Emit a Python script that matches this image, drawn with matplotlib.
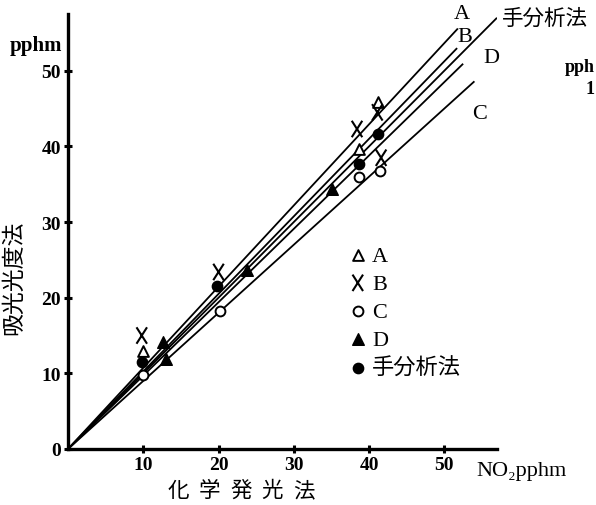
import matplotlib
matplotlib.use("Agg")
import matplotlib.pyplot as plt
import numpy as np
from matplotlib.path import Path

SERIF = ["Liberation Serif", "DejaVu Serif"]
CJK = ["Noto Sans CJK JP", "DejaVu Sans"]
MIXED = ["Liberation Serif", "Noto Sans CJK JP"]

# chemiluminescence (x) vs absorptiometry (y), pphm
series = ["A", "B", "C", "D", "手分析法"]
a_x = [10.0, 38.6, 41.2]
a_y = [12.9, 39.7, 45.9]
b_x = [9.8, 20.0, 38.4, 41.1, 41.6]
b_y = [15.0, 23.4, 42.3, 44.5, 38.5]
c_x = [10.0, 20.2, 38.6, 41.5]
c_y = [9.8, 18.3, 36.0, 36.8]
d_x = [12.6, 13.0, 23.8, 35.1]
d_y = [14.2, 11.9, 23.6, 34.4]
m_x = [9.8, 19.8, 38.6, 41.2]
m_y = [11.5, 21.6, 37.7, 41.7]

# regression lines through the origin: slope and where each line stops (x)
line_slope = [1.073, 1.025, 0.90, 0.97, 1.0]
line_end = [51.8, 51.7, 54.0, 52.5, 57.0]

xlabel_chars = ["化", "学", "発", "光", "法"]

# X marker drawn taller than wide, like the print
x_marker = Path([(-0.32, -0.5), (0.32, 0.5), (-0.32, 0.5), (0.32, -0.5)],
                [Path.MOVETO, Path.LINETO, Path.MOVETO, Path.LINETO])

fig = plt.figure(figsize=(5.96, 5.06), dpi=100)
ax = fig.add_axes([68 / 596, 56 / 506, 429 / 596, 435 / 506])
ax.set_xlim(0, 57)
ax.set_ylim(0, 57.5)

for s, e in zip(line_slope, line_end):
    xs = np.array([0, e])
    ax.plot(xs, s * xs, color="black", lw=1.3, solid_capstyle="butt", zorder=2)

handles = []
handles.append(ax.scatter(a_x, a_y, marker="^", s=60, facecolor="white", edgecolor="black", linewidth=1.4, zorder=4))
handles.append(ax.scatter(b_x, b_y, marker=x_marker, s=140, facecolor="none", edgecolor="black", linewidth=1.5, zorder=4))
handles.append(ax.scatter(c_x, c_y, marker="o", s=50, facecolor="white", edgecolor="black", linewidth=1.4, zorder=4))
handles.append(ax.scatter(d_x, d_y, marker="^", s=70, facecolor="black", edgecolor="black", zorder=4))
handles.append(ax.scatter(m_x, m_y, marker="o", s=55, facecolor="black", edgecolor="black", zorder=4))

ax.spines["top"].set_visible(False)
ax.spines["right"].set_visible(False)
for sp in ("left", "bottom"):
    ax.spines[sp].set_linewidth(2.4)

ax.set_xticks([10, 20, 30, 40, 50])
ax.set_yticks([0, 10, 20, 30, 40, 50])
ax.tick_params(direction="inout", length=6, width=2.2, labelsize=14, pad=2)
for lbl in ax.get_xticklabels() + ax.get_yticklabels():
    lbl.set_family(SERIF)
    lbl.set_fontweight("bold")

# line labels
ax.text(52.35, 57.5, "A", family=SERIF, size=16, ha="center", va="center", clip_on=False)
ax.text(52.7, 54.5, "B", family=SERIF, size=16, ha="center", va="center", clip_on=False)
ax.text(56.2, 51.8, "D", family=SERIF, size=16, ha="center", va="center", clip_on=False)
ax.text(54.7, 44.3, "C", family=SERIF, size=16, ha="center", va="center", clip_on=False)
ax.text(57.7, 57.0, "手分析法", family=CJK, size=15.5, ha="left", va="center", clip_on=False)

ax.text(54.3, -2.9, "NO₂pphm", family=SERIF, size=16, ha="left", va="center", clip_on=False)
fig.text(36 / 596, 1 - 46 / 506, "pphm", family=SERIF, weight="bold", size=15, ha="center", va="center")
fig.text(14 / 596, 1 - 278 / 506, "吸光光度法", family=CJK, size=16.5, rotation=90, ha="center", va="center")
for i, ch in enumerate(xlabel_chars):
    fig.text((178 + 31.5 * i) / 596, 1 - 491 / 506, ch, family=CJK, size=15.5, ha="center", va="center")

# fragment of the neighbouring figure, cut by the page edge
fig.text(595 / 596, 1 - 68 / 506, "pph", family=SERIF, weight="bold", size=13, ha="right", va="center")
fig.text(595 / 596, 1 - 89 / 506, "1", family=SERIF, weight="bold", size=13, ha="right", va="center")

ax.legend(handles, series, loc="upper left", bbox_to_anchor=(350 / 596, 1 - 246 / 506),
          bbox_transform=fig.transFigure, frameon=False, handlelength=0.7, handletextpad=0.3,
          labelspacing=0.34, borderpad=0, borderaxespad=0, prop={"family": MIXED, "size": 16})

fig.savefig("out.png", dpi=100)
